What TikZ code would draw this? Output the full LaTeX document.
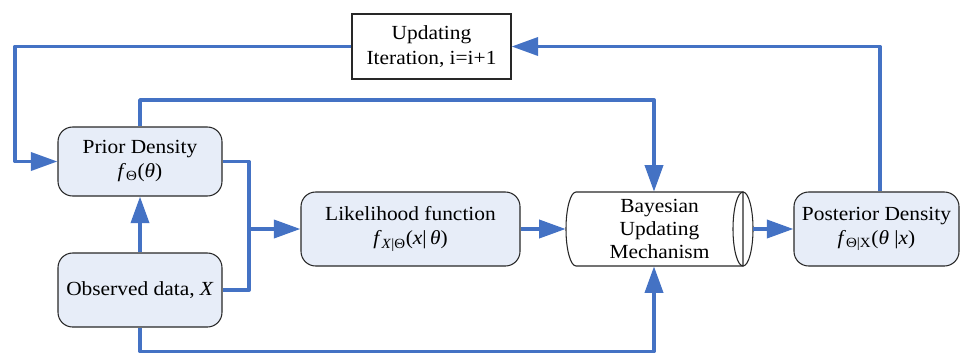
\documentclass[tikz,border=0pt]{standalone}
\usepackage{fontspec}
\setmainfont{Liberation Serif}[FakeStretch=1.07]
\usetikzlibrary{arrows.meta,calc}
\definecolor{conncol}{RGB}{68,114,196}
\definecolor{boxfill}{RGB}{231,237,248}
\definecolor{boxline}{RGB}{40,40,40}
\tikzset{
  rbox/.style={draw=boxline, line width=0.8pt, fill=boxfill, rounded corners=11pt,
    align=center, inner sep=0pt, font=\fontsize{15}{18}\selectfont},
  pbox/.style={draw=boxline, line width=0.8pt, fill=white,
    align=center, inner sep=0pt, font=\fontsize{15}{18.5}\selectfont},
  tbox/.style={align=center, inner sep=0pt, font=\fontsize{15}{17.3}\selectfont},
  conn/.style={draw=conncol, line width=2.9pt, line join=round},
  arr/.style={-{Triangle[length=20pt,width=13.5pt]}},
}
\begin{document}
\begin{tikzpicture}[x=0.75pt,y=-0.75pt]
\useasboundingbox (0,0) rectangle (960,354);
% nodes
\node[pbox, minimum width=119.25pt, minimum height=48.75pt] (upd) at (431.5,46.5)
  {Updating\\Iteration, i=i+1};
\node[rbox, minimum width=123pt, minimum height=51.75pt] (prior) at (140,161.5)
  {Prior Density\\\textit{f}\textsubscript{Θ}(\textit{θ})};
\node[rbox, minimum width=123pt, minimum height=55.5pt] (obs) at (140,290)
  {Observed data, \textit{X}};
\node[rbox, minimum width=164.25pt, minimum height=55.5pt] (lik) at (410.5,229)
  {Likelihood function\\\textit{f}\textsubscript{\textit{X}|Θ}(\textit{x}|\,\textit{θ})};
\node[rbox, minimum width=123.75pt, minimum height=55.5pt] (post) at (876.5,229)
  {Posterior Density\\\textit{f}\textsubscript{Θ|X}(\textit{θ} |\textit{x})};
% cylinder outline
\draw[boxline, line width=0.8pt, fill=white]
  (576,192) -- (743,192) -- (743,266) -- (576,266)
  arc[start angle=270, end angle=90, x radius=7.5pt, y radius=27.75pt] -- cycle;
\draw[boxline, line width=0.8pt] (743,229) ellipse [x radius=7.5pt, y radius=27.75pt];
\node[tbox, minimum width=140.25pt, minimum height=55.5pt] (bay) at (659.5,229)
  {Bayesian\\Updating\\Mechanism};
% helper coordinates
\coordinate (jx) at (249,0);
\coordinate (cx) at (654,0);
\coordinate (lx) at (15,0);
\coordinate (px) at (880,0);
\coordinate (ay) at (0,100);
\coordinate (by) at (0,351.5);
% connectors
\draw[conn,arr] (prior.north) -- (prior.north |- ay) -- (cx |- ay) -- (cx |- bay.north);
\draw[conn] (prior.east) -- (jx |- prior.east) -- (jx |- obs.east) -- (obs.east);
\draw[conn,arr] (jx |- lik.west) -- (lik.west);
\draw[conn,arr] (obs.north) -- (prior.south);
\draw[conn,arr] (obs.south) -- (obs.south |- by) -- (cx |- by) -- (cx |- bay.south);
\draw[conn,arr] (lik.east) -- (bay.west);
\draw[conn,arr] (bay.east) -- (post.west);
\draw[conn,arr] (px |- post.north) -- (px |- upd.east) -- (upd.east);
\draw[conn,arr] (upd.west) -- (lx |- upd.west) -- (lx |- prior.west) -- (prior.west);
\end{tikzpicture}
\end{document}
